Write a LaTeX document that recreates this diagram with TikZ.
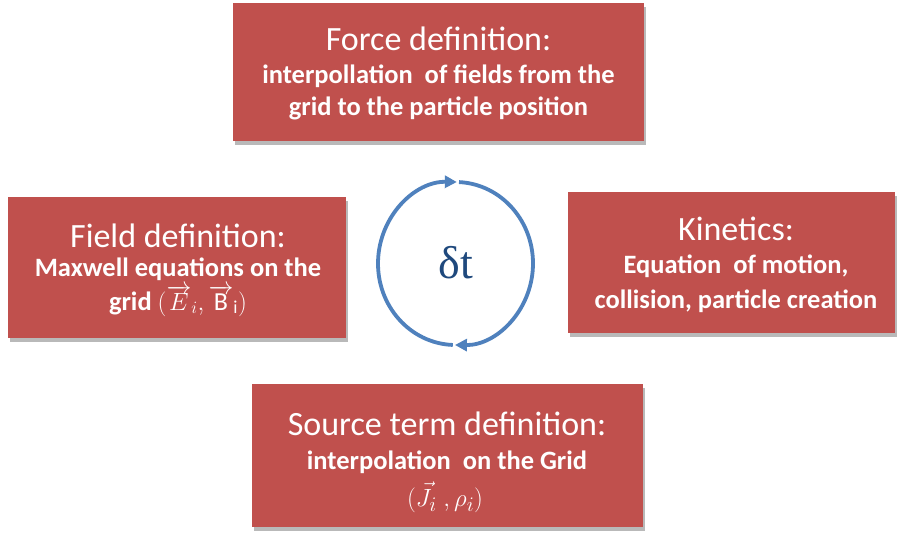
\documentclass[tikz,border=0pt]{standalone}
\usepackage{fontspec}
\setmainfont{Carlito}
\newfontfamily\dtfont{Liberation Serif}
\usetikzlibrary{shadows,arrows.meta,calc}
\definecolor{boxred}{HTML}{C0504D}
\definecolor{cycblue}{HTML}{4F81BD}
\definecolor{dtblue}{HTML}{1F497D}
\newcommand\mathsz{\fontsize{26}{30}\selectfont}
\tikzset{
  box/.style={fill=boxred, draw=none, inner sep=0pt,
    drop shadow={shadow xshift=1.5pt, shadow yshift=-4pt, fill=black!50, opacity=0.55}},
  titletext/.style={font=\fontsize{34}{40}\selectfont, text=white, anchor=base, inner sep=0pt},
  subtext/.style={font=\bfseries\fontsize{26.5}{30}\selectfont, text=white, anchor=base, inner sep=0pt},
  cyc/.style={draw=cycblue, line width=3.8pt, -{Triangle[length=12pt,width=12pt]}},
}
\begin{document}
\begin{tikzpicture}[x=1pt,y=-1pt]
\fill[white] (0,0) rectangle (897,533);
\useasboundingbox (0,0) rectangle (897,533);

% boxes
\node[box, minimum width=411pt, minimum height=138pt] (force) at (438.5,72) {};
\node[box, minimum width=338pt, minimum height=141pt] (field) at (177,267.5) {};
\node[box, minimum width=327pt, minimum height=141pt] (kin) at (731.5,262.5) {};
\node[box, minimum width=391pt, minimum height=143pt] (src) at (447.5,455.5) {};

% force text
\node[titletext] (forceT) at (438.5,50) {Force definition:};
\node[subtext] (forceA) at (438.5,83) {interpollation\hspace{0.45em}of fields from the};
\node[subtext] (forceB) at (438.5,115) {grid to the particle position};

% field text
\node[titletext] (fieldT) at (178,247) {Field definition:};
\node[subtext] (fieldA) at (178,276) {Maxwell equations on the};
\node[subtext] (fieldB) at (178,310) {grid {\mathsz$(\overrightarrow{E}_i, \overrightarrow{\mathrm{B}}_{\mathrm{i}})$}};

% kinetics text
\node[titletext] (kinT) at (736,240) {Kinetics:};
\node[subtext] (kinA) at (736,273) {Equation\hspace{0.45em}of motion,};
\node[subtext] (kinB) at (736,308) {collision, particle creation};

% source text
\node[titletext] (srcT) at (447,435) {Source term definition:};
\node[subtext] (srcA) at (447,469) {interpolation\hspace{0.45em}on the Grid};
\node[subtext] (srcB) at (445,506) {\fontsize{29}{32}\selectfont$(\vec{J}_i\ ,\rho_i)$};

% cycle
\coordinate (cc) at (455.5,263.5);
\coordinate (botL) at ($(cc)+(92:77.5 and 81.5)$);
\coordinate (topR) at ($(cc)+(272.6:77.5 and 81.5)$);
\draw[cyc] (botL) arc[start angle=92, end angle=271, x radius=77.5, y radius=81.5];
\draw[cyc] (topR) arc[start angle=272.6, end angle=450.4, x radius=77.5, y radius=81.5];
\node[font=\dtfont\fontsize{46}{50}\selectfont, text=dtblue, inner sep=0pt] (dt) at (456,263) {δt};
\end{tikzpicture}
\end{document}
